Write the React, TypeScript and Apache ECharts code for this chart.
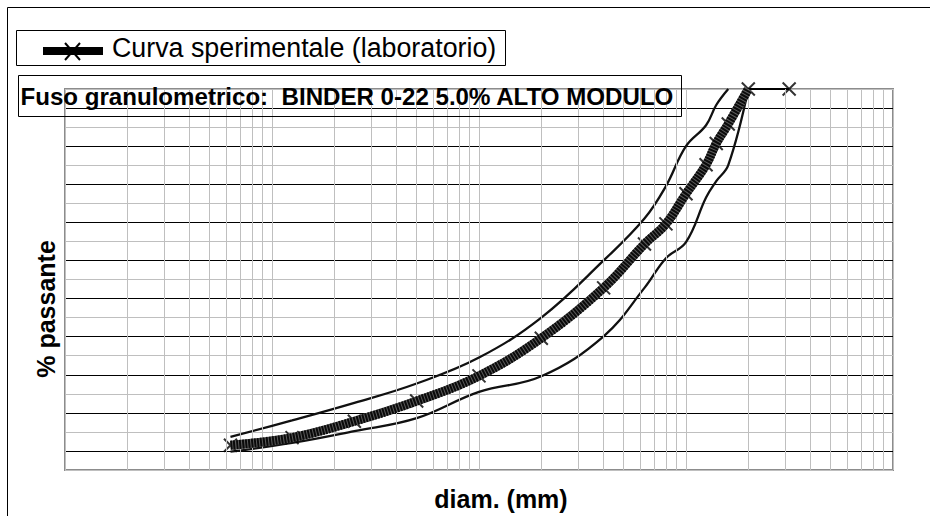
import React, { useEffect, useRef } from "react";
import * as echarts from "echarts";

// Sieve sizes (mm) and % passing of the laboratory curve
const sieves = [0.063, 0.125, 0.25, 0.5, 1, 2, 4, 6.3, 8, 10, 12.5, 14, 16, 20, 31.5];
const passing = [6.5, 8.5, 12.8, 18.1, 24.7, 34.6, 47.8, 59.3, 64.6, 72.5, 80.1, 85.7, 90.8, 100, 100];

// Envelope (fuso granulometrico)
const upperSieves = [0.063, 0.125, 0.25, 0.5, 1, 2, 4, 6.3, 8, 10, 12.5, 14, 16];
const upperLimit = [8.7, 13.0, 17.6, 22.7, 29.5, 40, 55, 66, 74.5, 85, 90.5, 95.8, 100];
const lowerSieves = [0.063, 0.125, 0.25, 0.5, 1, 2, 4, 6.3, 8, 10, 12.5, 14, 16, 20];
const lowerLimit = [4.8, 7.1, 10.2, 13.6, 20.5, 24.6, 35.1, 47.8, 55.6, 59.8, 71.5, 75.8, 80, 100];

// Log-axis minor grid positions
const decadeStarts = [0.01, 0.1, 1, 10];
const minorMultipliers = [2, 3, 4, 5, 6, 7, 8, 9];

const legendLabel = "Curva sperimentale (laboratorio)";
const envelopeTitle = "Fuso granulometrico:  BINDER 0-22 5.0% ALTO MODULO";
const yTitle = "% passante";
const xTitle = "diam. (mm)";

const FONT = '"Liberation Sans", Arial, sans-serif';

export default function App() {
  const ref = useRef<HTMLDivElement>(null);

  useEffect(() => {
    if (!ref.current) return;
    const chart = echarts.init(ref.current, null, { renderer: "svg" });

    const lastThick = sieves.indexOf(20);
    const mainPts = sieves.map((s, i) => [s, passing[i]]);
    const thickPts = mainPts.slice(0, lastThick + 1);
    const tailPts = mainPts.slice(lastThick);
    const upperPts = upperSieves.map((s, i) => [s, upperLimit[i]]);
    const lowerPts = lowerSieves.map((s, i) => [s, lowerLimit[i]]);
    const minorX = decadeStarts.flatMap((d) =>
      minorMultipliers.map((m) => Number((d * m).toPrecision(3)))
    );

    const crossPath = "path://M0,0L10,10M10,0L0,10";

    chart.setOption({
      animation: false,
      backgroundColor: "#ffffff",
      grid: {
        left: 65,
        top: 89,
        width: 828,
        height: 381,
        show: true,
        borderColor: "#8c8c8c",
        borderWidth: 2,
        backgroundColor: "transparent",
      },
      xAxis: {
        type: "log",
        logBase: 10,
        min: 0.01,
        max: 100,
        axisLabel: { show: false },
        axisTick: { show: false },
        axisLine: { show: false },
        splitLine: { show: true, lineStyle: { color: "#bfbfbf", width: 1 } },
      },
      yAxis: {
        type: "value",
        min: 0,
        max: 100,
        interval: 5,
        axisLabel: { show: false },
        axisTick: { show: false },
        axisLine: { show: false },
        splitLine: {
          show: true,
          lineStyle: { color: ["#bfbfbf", "#000000"], width: 1 },
        },
      },
      series: [
        {
          name: "minorGrid",
          type: "line",
          data: [],
          silent: true,
          z: 1,
          markLine: {
            silent: true,
            symbol: ["none", "none"],
            label: { show: false },
            lineStyle: { color: "#bfbfbf", width: 1, type: "solid" },
            data: minorX.map((v) => ({ xAxis: v })),
          },
        },
        {
          name: "upper",
          type: "line",
          data: upperPts,
          smooth: 0.4,
          symbol: "none",
          lineStyle: { color: "#111", width: 2.3 },
          z: 3,
        },
        {
          name: "lower",
          type: "line",
          data: lowerPts,
          smooth: 0.4,
          symbol: "none",
          lineStyle: { color: "#111", width: 2.3 },
          z: 3,
        },
        {
          name: "tail",
          type: "line",
          data: tailPts,
          symbol: "none",
          lineStyle: { color: "#000", width: 2 },
          z: 4,
        },
        {
          name: "markers",
          type: "scatter",
          data: mainPts,
          symbol: crossPath,
          symbolSize: 13,
          itemStyle: { color: "none", borderColor: "#000", borderWidth: 2 },
          z: 4,
        },
        {
          name: legendLabel,
          type: "line",
          data: thickPts,
          smooth: 0.4,
          symbol: "none",
          lineStyle: { color: "#5a5a5a", width: 9, cap: "butt" },
          z: 5,
        },
        {
          name: "thickHatch",
          type: "line",
          data: thickPts,
          smooth: 0.4,
          symbol: "none",
          lineStyle: { color: "#0a0a0a", width: 9, type: [2, 1], cap: "butt" },
          z: 6,
        },
      ],
      graphic: [
        {
          type: "rect",
          silent: true,
          shape: { x: 7.5, y: 7.5, width: 940, height: 530 },
          style: { fill: "none", stroke: "#000", lineWidth: 1 },
        },
        {
          type: "rect",
          silent: true,
          shape: { x: 16.5, y: 30.5, width: 489, height: 35 },
          style: { fill: "none", stroke: "#000", lineWidth: 1 },
        },
        {
          type: "rect",
          silent: true,
          shape: { x: 43, y: 47, width: 60, height: 8 },
          style: { fill: "#000" },
        },
        {
          type: "line",
          silent: true,
          shape: { x1: 65, y1: 43, x2: 80, y2: 60 },
          style: { stroke: "#000", lineWidth: 2 },
        },
        {
          type: "line",
          silent: true,
          shape: { x1: 80, y1: 43, x2: 65, y2: 60 },
          style: { stroke: "#000", lineWidth: 2 },
        },
        {
          type: "text",
          silent: true,
          x: 112,
          y: 48,
          style: {
            text: legendLabel,
            fontFamily: FONT,
            fontSize: 26.8,
            fill: "#000",
            textAlign: "left",
            textVerticalAlign: "middle",
          },
        },
        {
          type: "rect",
          silent: true,
          shape: { x: 18.5, y: 75.5, width: 663, height: 41 },
          style: { fill: "none", stroke: "#000", lineWidth: 1 },
          z: 10,
        },
        {
          type: "text",
          silent: true,
          x: 20.5,
          y: 96,
          z: 10,
          style: {
            text: envelopeTitle,
            fontFamily: FONT,
            fontWeight: "bold",
            fontSize: 24.1,
            fill: "#000",
            textAlign: "left",
            textVerticalAlign: "middle",
          },
        },
        {
          type: "text",
          silent: true,
          x: 46,
          y: 309,
          rotation: Math.PI / 2,
          style: {
            text: yTitle,
            fontFamily: FONT,
            fontWeight: "bold",
            fontSize: 25,
            fill: "#000",
            textAlign: "center",
            textVerticalAlign: "middle",
          },
        },
        {
          type: "text",
          silent: true,
          x: 501,
          y: 499,
          style: {
            text: xTitle,
            fontFamily: FONT,
            fontWeight: "bold",
            fontSize: 25,
            fill: "#000",
            textAlign: "center",
            textVerticalAlign: "middle",
          },
        },
      ],
    });

    return () => chart.dispose();
  }, []);

  return (
    <div
      ref={ref}
      style={{ position: "absolute", left: 0, top: 0, width: 930, height: 516, background: "#fff" }}
    />
  );
}
